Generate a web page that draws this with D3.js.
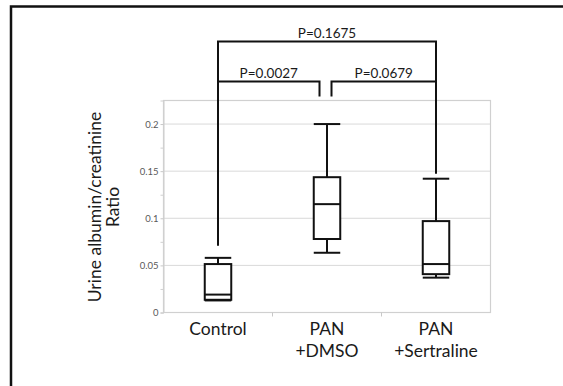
<!DOCTYPE html>
<html>
<head>
<meta charset="utf-8">
<script src="https://cdn.jsdelivr.net/npm/d3@7"></script>
<style>
  body { margin: 0; background: #fff; }
  text { font-family: Lato, "Open Sans", sans-serif; }
</style>
</head>
<body>
<div id="chart"></div>
<script>
// box statistics
const categories = ["Control", "PAN +DMSO", "PAN +Sertraline"];
const catLines = [["Control"], ["PAN", "+DMSO"], ["PAN", "+Sertraline"]];
const whiskerLow = [0.0128, 0.0634, 0.037];
const q1 = [0.0135, 0.078, 0.0407];
const median = [0.019, 0.115, 0.0514];
const q3 = [0.0514, 0.1436, 0.097];
const whiskerHigh = [0.058, 0.2, 0.142];
const yTicks = [0, 0.05, 0.1, 0.15, 0.2];
const yMinorTicks = [0.025, 0.075, 0.125, 0.175];

// significance brackets (values in y units above the plot)
const brackets = [
  { from: 0, to: 2, level: 0.2877, label: "P=0.1675", endFrom: 0.071, endTo: 0.1475, offFrom: 0, offTo: 0 },
  { from: 0, to: 1, level: 0.2452, label: "P=0.0027", endFrom: 0.071, endTo: 0.2293, offFrom: 0, offTo: -7.5 },
  { from: 1, to: 2, level: 0.2452, label: "P=0.0679", endFrom: 0.2293, endTo: 0.1475, offFrom: 4.5, offTo: 0 }
];

const width = 563, height = 386;
const margin = { left: 163.5, right: 72.5, top: 100.5, bottom: 73.5 };
const innerW = width - margin.left - margin.right;
const innerH = height - margin.top - margin.bottom;

const svg = d3.select("#chart").append("svg")
  .attr("width", width).attr("height", height);

// outer frame (runs off the right and bottom edges)
svg.append("path")
  .attr("d", `M11,${height + 5}V6.5H${width + 5}`)
  .attr("fill", "none").attr("stroke", "#111").attr("stroke-width", 2.5);

const g = svg.append("g").attr("transform", `translate(${margin.left},${margin.top})`);

const x = d3.scaleBand().domain(categories).range([0, innerW]);
const y = d3.scaleLinear().domain([0, 0.225]).range([innerH, 0]);

// gridlines
g.append("g").selectAll("line").data(yTicks.slice(1)).join("line")
  .attr("x1", 0).attr("x2", innerW)
  .attr("y1", d => y(d)).attr("y2", d => y(d))
  .attr("stroke", "#d9d9d9").attr("stroke-width", 1);

// plot frame
g.append("rect").attr("x", 0).attr("y", 0).attr("width", innerW).attr("height", innerH)
  .attr("fill", "none").attr("stroke", "#d0d0d0").attr("stroke-width", 1.2);

// y axis
const yAxis = g.append("g").call(d3.axisLeft(y).tickValues(yTicks).tickSize(3).tickFormat(d3.format("")));
yAxis.select(".domain").attr("stroke", "#d0d0d0");
yAxis.selectAll(".tick line").attr("stroke", "#c8c8c8");
yAxis.selectAll(".tick text").attr("fill", "#595959").style("font-size", "9.5px").attr("x", -5);
g.append("g").call(d3.axisLeft(y).tickValues(yMinorTicks).tickSize(3).tickFormat(""))
  .call(a => a.select(".domain").remove())
  .selectAll(".tick line").attr("stroke", "#d0d0d0");

// x axis: ticks between categories
const xAxis = g.append("g").attr("transform", `translate(0,${innerH})`);
xAxis.selectAll("line").data([1, 2]).join("line")
  .attr("x1", d => d * x.step()).attr("x2", d => d * x.step())
  .attr("y1", 0).attr("y2", 4).attr("stroke", "#c8c8c8");
xAxis.selectAll("text").data(categories).join("text")
  .attr("text-anchor", "middle")
  .attr("transform", d => `translate(${x(d) + x.bandwidth() / 2},22.5)`)
  .style("font-size", "17.5px").attr("fill", "#1a1a1a")
  .selectAll("tspan").data((d, i) => catLines[i]).join("tspan")
  .attr("x", 0).attr("dy", (d, i) => i ? 22 : 0).text(d => d);

// boxes
const boxW = 26.5;
const boxes = g.append("g").selectAll("g").data(categories).join("g")
  .attr("transform", d => `translate(${x(d) + x.bandwidth() / 2},0)`)
  .attr("stroke", "#111").attr("stroke-width", 2).attr("fill", "none");
boxes.append("line").attr("y1", (d, i) => y(whiskerLow[i])).attr("y2", (d, i) => y(q1[i]));
boxes.append("line").attr("y1", (d, i) => y(q3[i])).attr("y2", (d, i) => y(whiskerHigh[i]));
boxes.append("line").attr("x1", -boxW / 2).attr("x2", boxW / 2)
  .attr("y1", (d, i) => y(whiskerLow[i])).attr("y2", (d, i) => y(whiskerLow[i]));
boxes.append("line").attr("x1", -boxW / 2).attr("x2", boxW / 2)
  .attr("y1", (d, i) => y(whiskerHigh[i])).attr("y2", (d, i) => y(whiskerHigh[i]));
boxes.append("rect").attr("x", -boxW / 2).attr("width", boxW)
  .attr("y", (d, i) => y(q3[i])).attr("height", (d, i) => y(q1[i]) - y(q3[i]))
  .attr("fill", "#fff");
boxes.append("line").attr("x1", -boxW / 2).attr("x2", boxW / 2)
  .attr("y1", (d, i) => y(median[i])).attr("y2", (d, i) => y(median[i]));

// significance brackets
const cx = i => x(categories[i]) + x.bandwidth() / 2;
const br = g.append("g");
br.selectAll("path").data(brackets).join("path")
  .attr("d", b => {
    const x1 = cx(b.from) + b.offFrom, x2 = cx(b.to) + b.offTo;
    return `M${x1},${y(b.endFrom)}V${y(b.level)}H${x2}V${y(b.endTo)}`;
  })
  .attr("fill", "none").attr("stroke", "#111").attr("stroke-width", 2);
br.selectAll("text").data(brackets).join("text")
  .attr("x", b => (cx(b.from) + b.offFrom + cx(b.to) + b.offTo) / 2)
  .attr("y", b => y(b.level) - 3.5)
  .attr("text-anchor", "middle").style("font-size", "13.5px").attr("fill", "#1a1a1a")
  .text(b => b.label);

// y title
svg.append("text")
  .attr("transform", "translate(101,207) rotate(-90)")
  .attr("text-anchor", "middle").style("font-size", "17.5px").attr("fill", "#1a1a1a")
  .selectAll("tspan").data(["Urine albumin/creatinine", "Ratio"]).join("tspan")
  .attr("x", 0).attr("dy", (d, i) => i ? 18 : 0).text(d => d);
</script>
</body>
</html>
